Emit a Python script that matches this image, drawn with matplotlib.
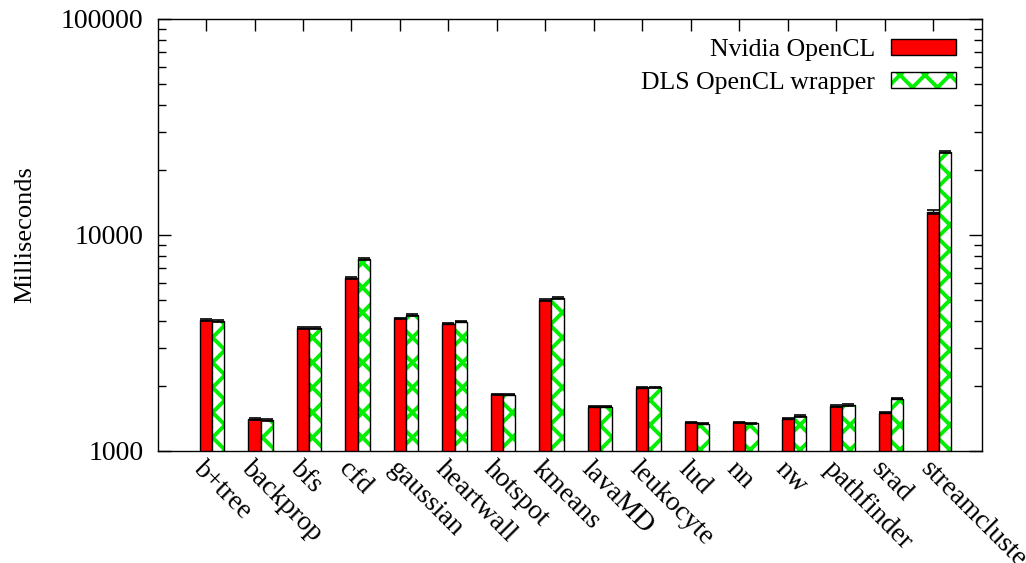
import numpy as np
import matplotlib.pyplot as plt
import matplotlib.hatch as mhatch
from matplotlib.patches import Patch
from matplotlib.ticker import LogLocator, NullFormatter, FixedLocator

plt.rcParams['font.family'] = ['Liberation Serif', 'DejaVu Serif']
plt.rcParams['hatch.linewidth'] = 2.8


# tighter cross-hatch than the stock 'x' (8 diagonals per unit instead of 6)
class DenseNE(mhatch.NorthEastHatch):
    def __init__(self, hatch, density):
        super().__init__(hatch, density)
        n = int((hatch.count('x') + hatch.count('X')) * density * 4 / 3)
        self.num_lines = n
        self.num_vertices = (n + 1) * 2 if n else 0


class DenseSE(mhatch.SouthEastHatch):
    def __init__(self, hatch, density):
        super().__init__(hatch, density)
        n = int((hatch.count('x') + hatch.count('X')) * density * 4 / 3)
        self.num_lines = n
        self.num_vertices = (n + 1) * 2 if n else 0


mhatch._hatch_types = [DenseNE if t is mhatch.NorthEastHatch else
                       DenseSE if t is mhatch.SouthEastHatch else t
                       for t in mhatch._hatch_types]

# Rodinia benchmark runtimes (ms)
benchmarks = ['b+tree', 'backprop', 'bfs', 'cfd', 'gaussian', 'heartwall',
              'hotspot', 'kmeans', 'lavaMD', 'leukocyte', 'lud', 'nn', 'nw',
              'pathfinder', 'srad', 'streamcluster']
nvidia_ms = [4040, 1407, 3700, 6320, 4115, 3884, 1829, 5000, 1604, 1964,
             1358, 1358, 1411, 1615, 1504, 12820]
dls_ms = [4000, 1392, 3720, 7740, 4263, 3970, 1825, 5128, 1604, 1972,
          1338, 1343, 1452, 1633, 1746, 24300]
nvidia_err = [30, 10, 30, 50, 30, 30, 12, 60, 12, 15, 10, 10, 10, 12, 10, 250]
dls_err = [30, 10, 40, 60, 30, 30, 12, 60, 12, 15, 10, 10, 10, 12, 15, 300]

label_nv = 'Nvidia OpenCL'
label_dls = 'DLS OpenCL wrapper'

RED = '#ff0000'
GREEN = '#00f000'

fig = plt.figure(figsize=(10.26, 5.63), dpi=100)
ax = fig.add_axes([0.154, 0.199, 0.803, 0.7673])

x = np.arange(len(benchmarks))
bw = 0.252

# red bars on the left of each cluster, hatched bars on the right
ax.bar(x - bw / 2, nvidia_ms, bw, color=RED, edgecolor='black',
       linewidth=1.0, zorder=3)
ax.bar(x + bw / 2, dls_ms, bw, color='white', edgecolor=GREEN,
       hatch='x', linewidth=0, zorder=3)
ax.bar(x + bw / 2, dls_ms, bw, fill=False, edgecolor='black',
       linewidth=1.0, zorder=4)
ax.errorbar(x - bw / 2, nvidia_ms, yerr=nvidia_err, fmt='none',
            ecolor='black', elinewidth=1, capsize=4.5, capthick=1.2, zorder=5)
ax.errorbar(x + bw / 2, dls_ms, yerr=dls_err, fmt='none',
            ecolor='black', elinewidth=1, capsize=4.5, capthick=1.2, zorder=5)

ax.set_yscale('log')
ax.set_ylim(1000, 100000)
ax.set_xlim(-1.118, 15.88)

ax.yaxis.set_major_locator(FixedLocator([1000, 10000, 100000]))
ax.yaxis.set_major_formatter(plt.FuncFormatter(lambda v, p: f'{int(v)}'))
ax.yaxis.set_minor_locator(LogLocator(base=10, subs=np.arange(2, 10)))
ax.yaxis.set_minor_formatter(NullFormatter())
ax.tick_params(axis='y', which='major', direction='in', length=9.5,
               width=1, right=True, labelsize=20, pad=10.5)
ax.tick_params(axis='y', which='minor', direction='in', length=5.8,
               width=1, right=True)

ax.set_xticks(x - bw / 2)
ax.set_xticklabels(benchmarks, rotation=-45, ha='left', va='top',
                   rotation_mode='anchor', fontsize=20)
ax.tick_params(axis='x', which='major', direction='in', length=8.6,
               width=1, top=True, pad=4)
ax.tick_params(axis='x', which='minor', bottom=False, top=False)

for sp in ax.spines.values():
    sp.set_linewidth(1.0)
    sp.set_zorder(6)

ax.set_ylabel('Milliseconds', fontsize=19)
ax.yaxis.set_label_coords(-0.148, 0.5)

h_nv = Patch(facecolor=RED, edgecolor='black', linewidth=1.0)
h_dls = (Patch(facecolor='white', edgecolor=GREEN, hatch='x', linewidth=0),
         Patch(fill=False, edgecolor='black', linewidth=1.0))
ax.legend([h_nv, h_dls], [label_nv, label_dls], loc='upper right',
          bbox_to_anchor=(1.0, 1.013),
          frameon=False, markerfirst=False, fontsize=18.5, handlelength=2.55,
          handleheight=0.6, handletextpad=0.6, labelspacing=0.4,
          borderaxespad=0.7, borderpad=0.3)

fig.savefig('out.png', dpi=100)
